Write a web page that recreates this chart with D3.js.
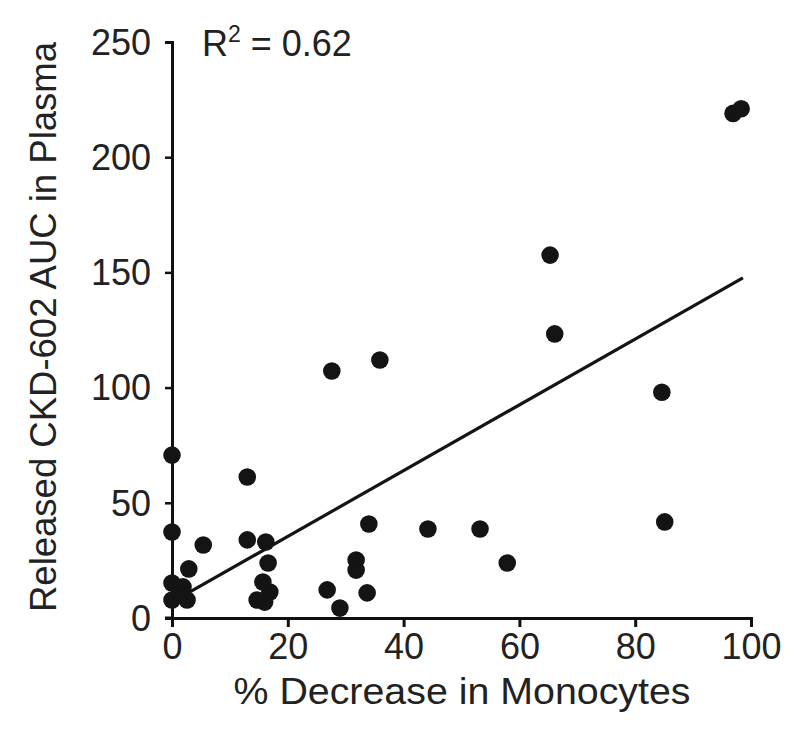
<!DOCTYPE html>
<html><head><meta charset="utf-8">
<script src="https://cdn.jsdelivr.net/npm/d3@7"></script>
<style>body{margin:0;background:#fff}svg{display:block}text{font-family:"Liberation Sans",Arial,sans-serif;fill:#222}</style>
</head><body><svg id="c" width="800" height="751"></svg>
<script>
// % decrease in monocytes
const pctDecrease = [0, 0, 0, 1.9, 0, 2.6, 1.4, 2.9, 5.4, 13, 13, 16.2, 16.6, 15.7, 16.9, 14.7, 16, 26.8, 29, 31.8, 31.8, 33.7, 34, 27.6, 35.9, 44.2, 53.2, 57.9, 65.3, 66.1, 84.6, 85.1, 96.9, 98.3];
// released CKD-602 AUC in plasma
const aucPlasma = [70.7, 37.3, 15.2, 13.5, 7.8, 7.8, 11.3, 21.3, 31.7, 61.2, 33.9, 33, 23.9, 15.6, 11.3, 7.8, 6.9, 12.2, 4.3, 25.2, 20.8, 10.9, 40.8, 107.2, 112, 38.6, 38.6, 23.9, 157.5, 123.3, 98, 41.7, 219, 221];
// regression line endpoints
const fitX = [3.1, 98.6];
const fitY = [11.3, 147.6];
const xTicks = [0, 20, 40, 60, 80, 100];
const yTicks = [0, 50, 100, 150, 200, 250];

const svg = d3.select("#c");
const x = d3.scaleLinear().domain([0, 100]).range([172, 751]);
const y = d3.scaleLinear().domain([0, 250]).range([618, 42]);
const FS = 36;
const FF = '"Liberation Sans",Arial,sans-serif';

const gx = svg.append("g").attr("transform", `translate(0,${y(0)})`)
  .call(d3.axisBottom(x).tickValues(xTicks).tickSize(9).tickSizeOuter(9).tickFormat(d3.format("d")));
gx.select(".domain").attr("stroke", "#111").attr("stroke-width", 3);
gx.selectAll(".tick line").attr("stroke", "#111").attr("stroke-width", 3);
gx.selectAll(".tick text").attr("font-size", FS).attr("font-family", FF).attr("fill", "#222").attr("dy", "0.72em").attr("y", 15);

const gy = svg.append("g").attr("transform", `translate(${x(0)},0)`)
  .call(d3.axisLeft(y).tickValues(yTicks).tickSize(7).tickSizeOuter(7).tickFormat(d3.format("d")));
gy.select(".domain").attr("stroke", "#111").attr("stroke-width", 3);
gy.selectAll(".tick line").attr("stroke", "#111").attr("stroke-width", 2.5);
gy.selectAll(".tick text").attr("font-size", FS).attr("font-family", FF).attr("fill", "#222").attr("x", -21).attr("dy", "0.34em");
gy.selectAll(".tick").filter(d => d === 0).select("line").attr("x2", 0);
// axis overhang at the origin
svg.append("line").attr("x1", x(0) - 7).attr("x2", x(0)).attr("y1", y(0)).attr("y2", y(0)).attr("stroke", "#111").attr("stroke-width", 3);

svg.append("g").selectAll("circle").data(pctDecrease.map((v, i) => [v, aucPlasma[i]]))
  .join("circle").attr("cx", d => x(d[0])).attr("cy", d => y(d[1])).attr("r", 8.8).attr("fill", "#141414");

svg.append("line").attr("x1", x(fitX[0])).attr("y1", y(fitY[0])).attr("x2", x(fitX[1])).attr("y2", y(fitY[1]))
  .attr("stroke", "#141414").attr("stroke-width", 3.2);

const r2 = svg.append("text").attr("x", 202).attr("y", 56).attr("font-size", FS);
r2.append("tspan").text("R");
r2.append("tspan").attr("font-size", 23).attr("dy", -14).text("2");
r2.append("tspan").attr("dy", 14).text(" = 0.62");

svg.append("text").attr("x", 462).attr("y", 704).attr("text-anchor", "middle").attr("font-size", 37)
  .attr("textLength", 457).attr("lengthAdjust", "spacingAndGlyphs").text("% Decrease in Monocytes");
svg.append("text").attr("transform", "translate(56,327) rotate(-90)").attr("text-anchor", "middle").attr("font-size", 37)
  .attr("textLength", 570).attr("lengthAdjust", "spacingAndGlyphs").text("Released CKD-602 AUC in Plasma");
</script></body></html>
